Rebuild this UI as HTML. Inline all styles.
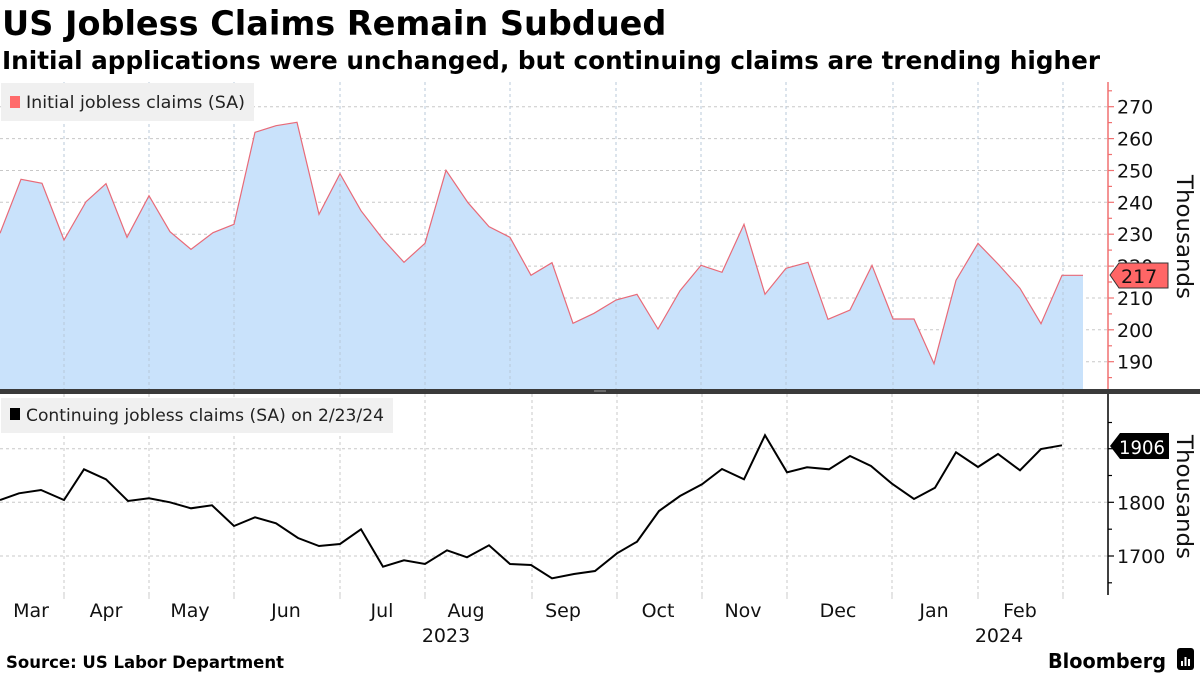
<!DOCTYPE html>
<html><head><meta charset="utf-8"><style>
html,body{margin:0;padding:0;background:#fff;}
svg{display:block;font-family:"DejaVu Sans","Liberation Sans",sans-serif;}
</style></head><body>
<svg width="1200" height="675" viewBox="0 0 1200 675" xmlns="http://www.w3.org/2000/svg">
<text x="2" y="35" font-size="33.5" font-weight="bold" fill="#000">US Jobless Claims Remain Subdued</text>
<text x="2" y="69" font-size="24.5" font-weight="bold" fill="#000" textLength="1098" lengthAdjust="spacingAndGlyphs">Initial applications were unchanged, but continuing claims are trending higher</text>

<g stroke="#c8c8c8" stroke-width="1" stroke-dasharray="3,3">
<line x1="0" x2="1107" y1="106.7" y2="106.7"/><line x1="0" x2="1107" y1="138.6" y2="138.6"/>
<line x1="0" x2="1107" y1="170.5" y2="170.5"/><line x1="0" x2="1107" y1="202.3" y2="202.3"/>
<line x1="0" x2="1107" y1="234.2" y2="234.2"/><line x1="0" x2="1107" y1="266.1" y2="266.1"/>
<line x1="0" x2="1107" y1="298" y2="298"/><line x1="0" x2="1107" y1="329.8" y2="329.8"/>
<line x1="0" x2="1107" y1="361.7" y2="361.7"/>
</g>
<path d="M0,233.3 L21,179.3 L42,183.3 L64,240 L86,201.7 L106,183.7 L127,237.3 L149,195.7 L170,231.7 L191,249.3 L213,232.7 L234,224.3 L255,132.3 L276,125.7 L297,122.3 L319,214.3 L340,173.7 L361,210.7 L383,239.3 L404,262.3 L425,243.3 L446,170.3 L468,202.7 L489,226.7 L510,237.3 L531,275.3 L552,262.7 L573,323.3 L594,313.3 L616,300 L637,294.3 L658,329 L680,290.7 L701,265.3 L722,272.3 L744,224.3 L765,294.3 L786,268.3 L808,262.3 L828,319.3 L850,310 L872,265.3 L893,319 L914,319 L934,363.7 L956,280.3 L978,243.3 L999,265 L1020,288.3 L1041,323.7 L1062,275.3 L1083,275.3 L1083,390 L0,390 Z" fill="#c9e2fb"/>
<g stroke="#b8c8d8" stroke-width="1" stroke-dasharray="3,3">
<line x1="64" x2="64" y1="82" y2="390"/><line x1="149" x2="149" y1="82" y2="390"/><line x1="234" x2="234" y1="82" y2="390"/>
<line x1="340" x2="340" y1="82" y2="390"/><line x1="425" x2="425" y1="82" y2="390"/><line x1="510" x2="510" y1="82" y2="390"/>
<line x1="616" x2="616" y1="82" y2="390"/><line x1="701" x2="701" y1="82" y2="390"/><line x1="786" x2="786" y1="82" y2="390"/>
<line x1="893" x2="893" y1="82" y2="390"/><line x1="978" x2="978" y1="82" y2="390"/><line x1="1063" x2="1063" y1="82" y2="390"/>
</g>
<path d="M0,233.3 L21,179.3 L42,183.3 L64,240 L86,201.7 L106,183.7 L127,237.3 L149,195.7 L170,231.7 L191,249.3 L213,232.7 L234,224.3 L255,132.3 L276,125.7 L297,122.3 L319,214.3 L340,173.7 L361,210.7 L383,239.3 L404,262.3 L425,243.3 L446,170.3 L468,202.7 L489,226.7 L510,237.3 L531,275.3 L552,262.7 L573,323.3 L594,313.3 L616,300 L637,294.3 L658,329 L680,290.7 L701,265.3 L722,272.3 L744,224.3 L765,294.3 L786,268.3 L808,262.3 L828,319.3 L850,310 L872,265.3 L893,319 L914,319 L934,363.7 L956,280.3 L978,243.3 L999,265 L1020,288.3 L1041,323.7 L1062,275.3 L1083,275.3" fill="none" stroke="#e86a78" stroke-width="1.2"/>
<rect x="1" y="83" width="253" height="38" fill="#f0f0f0"/>
<rect x="10" y="96" width="10" height="12" fill="#ff6b6b"/>
<text x="26" y="108" font-size="17" fill="#222" textLength="219" lengthAdjust="spacingAndGlyphs">Initial jobless claims (SA)</text>

<line x1="1108" x2="1108" y1="82" y2="390" stroke="#f07070" stroke-width="1.5"/>
<g stroke="#f07070" stroke-width="1.2">
<line x1="1108" x2="1114" y1="106.7" y2="106.7"/><line x1="1108" x2="1114" y1="138.6" y2="138.6"/><line x1="1108" x2="1114" y1="170.5" y2="170.5"/><line x1="1108" x2="1114" y1="202.3" y2="202.3"/><line x1="1108" x2="1114" y1="234.2" y2="234.2"/><line x1="1108" x2="1114" y1="266.1" y2="266.1"/><line x1="1108" x2="1114" y1="298" y2="298"/><line x1="1108" x2="1114" y1="329.8" y2="329.8"/><line x1="1108" x2="1114" y1="361.7" y2="361.7"/>
<line x1="1108" x2="1112" y1="90.8" y2="90.8"/><line x1="1108" x2="1112" y1="122.6" y2="122.6"/><line x1="1108" x2="1112" y1="154.5" y2="154.5"/><line x1="1108" x2="1112" y1="186.4" y2="186.4"/><line x1="1108" x2="1112" y1="218.3" y2="218.3"/><line x1="1108" x2="1112" y1="250.1" y2="250.1"/><line x1="1108" x2="1112" y1="282" y2="282"/><line x1="1108" x2="1112" y1="313.9" y2="313.9"/><line x1="1108" x2="1112" y1="345.8" y2="345.8"/><line x1="1108" x2="1112" y1="377.6" y2="377.6"/>
</g>
<g font-size="19" fill="#111">
<text x="1117" y="113.7">270</text><text x="1117" y="145.6">260</text><text x="1117" y="177.5">250</text><text x="1117" y="209.3">240</text><text x="1117" y="241.2">230</text><text x="1117" y="273.1">220</text><text x="1117" y="305">210</text><text x="1117" y="336.8">200</text><text x="1117" y="368.7">190</text>
</g>
<path d="M1110,275 L1119,263 L1168,263 L1168,288 L1119,288 Z" fill="#ff6666" stroke="#333" stroke-width="1"/>
<text x="1121" y="283" font-size="19" fill="#111">217</text>
<text transform="translate(1177,237) rotate(90)" text-anchor="middle" font-size="22" fill="#111" textLength="124" lengthAdjust="spacingAndGlyphs">Thousands</text>

<rect x="0" y="389" width="1200" height="5" fill="#3a3a3a"/>
<line x1="594" x2="606" y1="391" y2="391" stroke="#999" stroke-width="1"/>

<g stroke="#c8c8c8" stroke-width="1" stroke-dasharray="3,3">
<line x1="0" x2="1107" y1="448.7" y2="448.7"/><line x1="0" x2="1107" y1="502.3" y2="502.3"/><line x1="0" x2="1107" y1="556" y2="556"/>
<line x1="64" x2="64" y1="394" y2="595"/><line x1="149" x2="149" y1="394" y2="595"/><line x1="234" x2="234" y1="394" y2="595"/>
<line x1="340" x2="340" y1="394" y2="595"/><line x1="425" x2="425" y1="394" y2="595"/><line x1="532" x2="532" y1="394" y2="595"/>
<line x1="617" x2="617" y1="394" y2="595"/><line x1="702" x2="702" y1="394" y2="595"/><line x1="787" x2="787" y1="394" y2="595"/>
<line x1="892" x2="892" y1="394" y2="595"/><line x1="978" x2="978" y1="394" y2="595"/><line x1="1063" x2="1063" y1="394" y2="595"/>
</g>
<rect x="1" y="398" width="392" height="35" fill="#f0f0f0"/>
<rect x="10" y="408" width="10" height="12" fill="#000"/>
<text x="26" y="421" font-size="17" fill="#222" textLength="358" lengthAdjust="spacingAndGlyphs">Continuing jobless claims (SA) on 2/23/24</text>
<path d="M0,500 L19,493.3 L41,490 L64,500 L84,469.3 L106,479.3 L128,501 L149,498.3 L170,502.3 L191,508.3 L212,505.3 L234,526 L255,517.3 L276,523.3 L298,538 L319,546 L340,544 L361,529.3 L383,566.7 L404,560.3 L425,564 L447,550.3 L467,557.3 L489,545.3 L510,564 L531,565 L552,578.3 L574,574 L595,571 L617,553.3 L637,541.7 L659,511 L680,496 L702,484.3 L722,469 L744,479.3 L765,435.3 L787,472.3 L807,467.3 L829,469.3 L850,456 L871,466 L892,483.7 L914,499 L935,487.7 L956,452.3 L978,467 L998,454 L1020,470.3 L1041,449 L1062,445.3" fill="none" stroke="#000" stroke-width="2"/>
<line x1="1108" x2="1108" y1="394" y2="595" stroke="#000" stroke-width="1.5"/>
<g stroke="#000" stroke-width="1.2">
<line x1="1108" x2="1114" y1="448.7" y2="448.7"/><line x1="1108" x2="1114" y1="502.3" y2="502.3"/><line x1="1108" x2="1114" y1="556" y2="556"/>
<line x1="1108" x2="1112" y1="422.5" y2="422.5"/><line x1="1108" x2="1112" y1="475.5" y2="475.5"/><line x1="1108" x2="1112" y1="529.2" y2="529.2"/><line x1="1108" x2="1112" y1="582.8" y2="582.8"/>
</g>
<path d="M1110,446 L1120,433 L1169,433 L1169,459 L1120,459 Z" fill="#000"/>
<text x="1119" y="454" font-size="19" fill="#fff" textLength="46" lengthAdjust="spacingAndGlyphs">1906</text>
<g font-size="19" fill="#111">
<text x="1117" y="509.3">1800</text><text x="1117" y="563">1700</text>
</g>
<text transform="translate(1177,497) rotate(90)" text-anchor="middle" font-size="22" fill="#111" textLength="124" lengthAdjust="spacingAndGlyphs">Thousands</text>

<g stroke="#ccc" stroke-width="1">
<line x1="64" x2="64" y1="595" y2="599"/><line x1="149" x2="149" y1="595" y2="599"/><line x1="234" x2="234" y1="595" y2="599"/><line x1="340" x2="340" y1="595" y2="599"/><line x1="425" x2="425" y1="595" y2="599"/><line x1="532" x2="532" y1="595" y2="599"/><line x1="617" x2="617" y1="595" y2="599"/><line x1="702" x2="702" y1="595" y2="599"/><line x1="787" x2="787" y1="595" y2="599"/><line x1="892" x2="892" y1="595" y2="599"/><line x1="978" x2="978" y1="595" y2="599"/><line x1="1063" x2="1063" y1="595" y2="599"/>
</g>
<g font-size="19" fill="#111" text-anchor="middle">
<text x="31" y="617">Mar</text><text x="106" y="617">Apr</text><text x="190" y="617">May</text><text x="286" y="617">Jun</text><text x="382" y="617">Jul</text><text x="466" y="617">Aug</text><text x="563" y="617">Sep</text><text x="658" y="617">Oct</text><text x="743" y="617">Nov</text><text x="838" y="617">Dec</text><text x="934" y="617">Jan</text><text x="1020" y="617">Feb</text>
<text x="446" y="642">2023</text><text x="999" y="642">2024</text>
</g>
<text x="6" y="668" font-size="16.5" font-weight="bold" fill="#000">Source: US Labor Department</text>
<text x="1166" y="668" font-size="20" font-weight="bold" fill="#000" text-anchor="end" textLength="118" lengthAdjust="spacingAndGlyphs">Bloomberg</text>
<rect x="1177" y="648" width="17" height="22" rx="3" fill="#000"/>
<g fill="#fff"><rect x="1181" y="661" width="2" height="5"/><rect x="1184.5" y="657" width="2" height="9"/><rect x="1188" y="659" width="2" height="7"/></g>
</svg>
</body></html>
